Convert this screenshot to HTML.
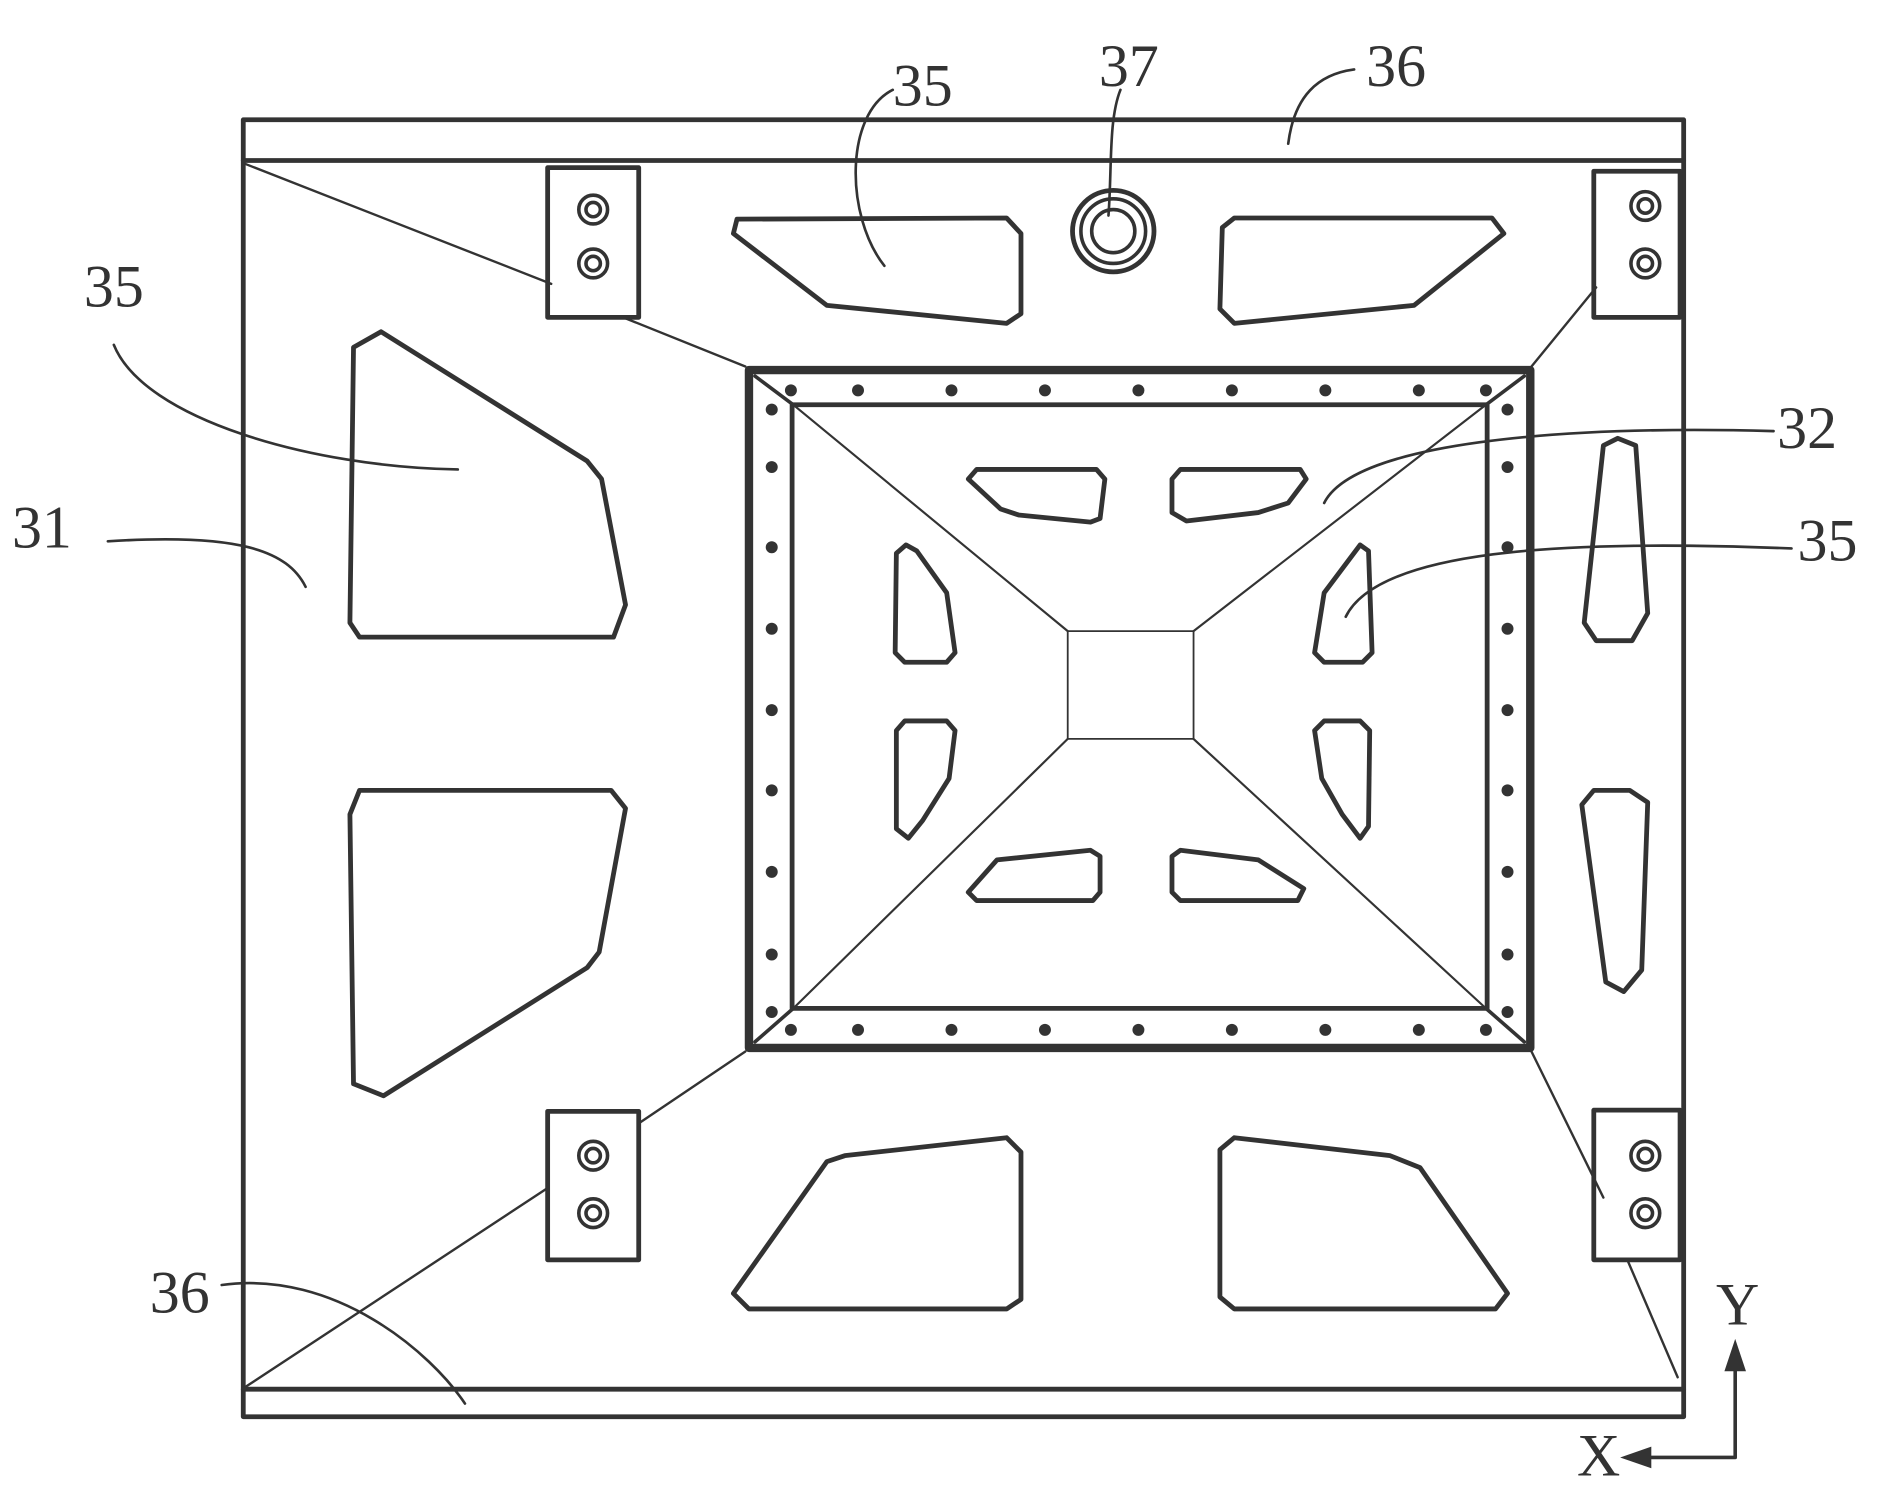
<!DOCTYPE html>
<html><head><meta charset="utf-8"><style>html,body{margin:0;padding:0;background:#fff}svg{display:block}</style></head>
<body>
<svg width="1879" height="1485" viewBox="0 0 1568 1240" preserveAspectRatio="none" xmlns="http://www.w3.org/2000/svg">
<g fill="none" stroke="#333" stroke-linejoin="round" stroke-linecap="round">
<!-- outer frame -->
<rect x="203" y="100" width="1202" height="1083" stroke-width="4"/>
<line x1="203" y1="134" x2="1405" y2="134" stroke-width="4"/>
<line x1="203" y1="1160" x2="1405" y2="1160" stroke-width="4"/>
<!-- diagonal ribs -->
<g stroke-width="2">
<line x1="205" y1="137" x2="460" y2="237"/>
<line x1="520" y1="265" x2="622" y2="306"/>
<line x1="1332" y1="240" x2="1278" y2="306"/>
<line x1="622" y1="878" x2="533" y2="938"/>
<line x1="457" y1="992" x2="205" y2="1158"/>
<line x1="1278" y1="878" x2="1338" y2="1000"/>
<line x1="1358" y1="1052" x2="1400" y2="1150"/>
</g>
<!-- brackets -->
<g stroke-width="4">
<rect x="457" y="140" width="76" height="125"/>
<rect x="1330" y="143" width="72" height="122"/>
<rect x="457" y="928" width="76" height="124"/>
<rect x="1330" y="927" width="72" height="125"/>
</g>
<g stroke-width="3">
<circle cx="495" cy="175" r="12"/><circle cx="495" cy="175" r="6"/>
<circle cx="495" cy="220" r="12"/><circle cx="495" cy="220" r="6"/>
<circle cx="1373" cy="172" r="12"/><circle cx="1373" cy="172" r="6"/>
<circle cx="1373" cy="220" r="12"/><circle cx="1373" cy="220" r="6"/>
<circle cx="495" cy="965" r="12"/><circle cx="495" cy="965" r="6"/>
<circle cx="495" cy="1013" r="12"/><circle cx="495" cy="1013" r="6"/>
<circle cx="1373" cy="965" r="12"/><circle cx="1373" cy="965" r="6"/>
<circle cx="1373" cy="1013" r="12"/><circle cx="1373" cy="1013" r="6"/>
</g>
<!-- inner frame -->
<rect x="625" y="309" width="652" height="566" stroke-width="7"/>
<rect x="661" y="338" width="580" height="504" stroke-width="4"/>
<line x1="630" y1="314" x2="662" y2="338" stroke-width="3"/>
<line x1="1272" y1="314" x2="1240" y2="338" stroke-width="3"/>
<line x1="630" y1="870" x2="662" y2="842" stroke-width="3"/>
<line x1="1272" y1="870" x2="1240" y2="842" stroke-width="3"/>
<!-- pyramid -->
<rect x="891" y="527" width="105" height="90" stroke-width="1.5"/>
<g stroke-width="1.8">
<line x1="662" y1="338" x2="891" y2="527"/><line x1="1240" y1="338" x2="996" y2="527"/>
<line x1="662" y1="842" x2="891" y2="617"/><line x1="1240" y1="842" x2="996" y2="617"/>
</g>
<!-- 37 -->
<circle cx="929" cy="193" r="34" stroke-width="4"/>
<circle cx="929" cy="193" r="27" stroke-width="3"/>
<circle cx="929" cy="193" r="18" stroke-width="3"/>
<!-- cutouts -->
<g stroke-width="4">
<polygon points="615,183 840,182 852,195 852,262 840,270 690,255 612,195"/>
<polygon points="1020,190 1030,182 1245,182 1255,195 1180,255 1030,270 1018,258"/>
<polygon points="295,290 318,277 490,385 502,400 522,505 512,532 300,532 292,520"/>
<polygon points="300,660 510,660 522,675 500,795 490,808 320,915 295,905 292,680"/>
<polygon points="612,1080 690,970 705,965 840,950 852,962 852,1085 840,1093 625,1093"/>
<polygon points="1018,960 1030,950 1160,965 1185,975 1258,1080 1248,1093 1030,1093 1018,1083"/>
<polygon points="1322,520 1338,372 1350,366 1365,372 1375,512 1362,535 1332,535"/>
<polygon points="1320,672 1330,660 1360,660 1375,670 1370,810 1355,828 1340,820"/>
<polygon points="808,400 815,392 915,392 922,400 918,433 910,436 850,430 835,425"/>
<polygon points="978,400 985,392 1085,392 1090,400 1075,420 1050,428 990,435 978,428"/>
<polygon points="748,462 756,455 765,460 790,495 797,545 790,553 755,553 747,545"/>
<polygon points="748,610 755,602 790,602 797,610 792,650 770,685 758,700 748,692"/>
<polygon points="1097,545 1105,495 1135,455 1142,460 1145,545 1137,553 1105,553"/>
<polygon points="1097,610 1105,602 1135,602 1143,610 1142,690 1135,700 1120,680 1103,650"/>
<polygon points="808,745 832,718 910,710 918,715 918,745 912,752 815,752"/>
<polygon points="978,715 985,710 1050,718 1088,742 1083,752 985,752 978,745"/>
</g>
<!-- leaders -->
<g stroke-width="2.2">
<path d="M745,75 C705,95 705,180 738,222"/>
<path d="M935,75 C925,100 928,140 925,180"/>
<path d="M1130,58 C1100,62 1080,80 1075,120"/>
<path d="M95,288 C120,350 260,390 382,392"/>
<path d="M90,452 C200,445 240,460 255,490"/>
<path d="M1480,360 C1300,355 1130,370 1105,420"/>
<path d="M1495,458 C1300,450 1150,460 1123,515"/>
<path d="M185,1073 C280,1060 360,1130 388,1172"/>
<polyline points="1448,1135 1448,1217 1370,1217" stroke-width="3"/>
</g>
</g>
<g fill="#333">
<circle cx="660" cy="326" r="5"/><circle cx="716" cy="326" r="5"/><circle cx="794" cy="326" r="5"/><circle cx="872" cy="326" r="5"/><circle cx="950" cy="326" r="5"/><circle cx="1028" cy="326" r="5"/><circle cx="1106" cy="326" r="5"/><circle cx="1184" cy="326" r="5"/><circle cx="1240" cy="326" r="5"/>
<circle cx="660" cy="860" r="5"/><circle cx="716" cy="860" r="5"/><circle cx="794" cy="860" r="5"/><circle cx="872" cy="860" r="5"/><circle cx="950" cy="860" r="5"/><circle cx="1028" cy="860" r="5"/><circle cx="1106" cy="860" r="5"/><circle cx="1184" cy="860" r="5"/><circle cx="1240" cy="860" r="5"/>
<circle cx="644" cy="342" r="5"/><circle cx="644" cy="390" r="5"/><circle cx="644" cy="457" r="5"/><circle cx="644" cy="525" r="5"/><circle cx="644" cy="593" r="5"/><circle cx="644" cy="660" r="5"/><circle cx="644" cy="728" r="5"/><circle cx="644" cy="797" r="5"/><circle cx="644" cy="845" r="5"/>
<circle cx="1258" cy="342" r="5"/><circle cx="1258" cy="390" r="5"/><circle cx="1258" cy="457" r="5"/><circle cx="1258" cy="525" r="5"/><circle cx="1258" cy="593" r="5"/><circle cx="1258" cy="660" r="5"/><circle cx="1258" cy="728" r="5"/><circle cx="1258" cy="797" r="5"/><circle cx="1258" cy="845" r="5"/>
<polygon points="1448,1118 1439,1145 1457,1145"/>
<polygon points="1352,1217 1378,1208 1378,1226"/>
</g>
<g font-family="Liberation Serif, serif" font-size="50" fill="#333" text-anchor="middle">
<text x="770" y="88">35</text>
<text x="942" y="72">37</text>
<text x="1165" y="72">36</text>
<text x="95" y="256">35</text>
<text x="35" y="457">31</text>
<text x="1508" y="374">32</text>
<text x="1525" y="468">35</text>
<text x="150" y="1096">36</text>
<text x="1450" y="1106">Y</text>
<text x="1334" y="1232">X</text>
</g>
</svg>
</body></html>
